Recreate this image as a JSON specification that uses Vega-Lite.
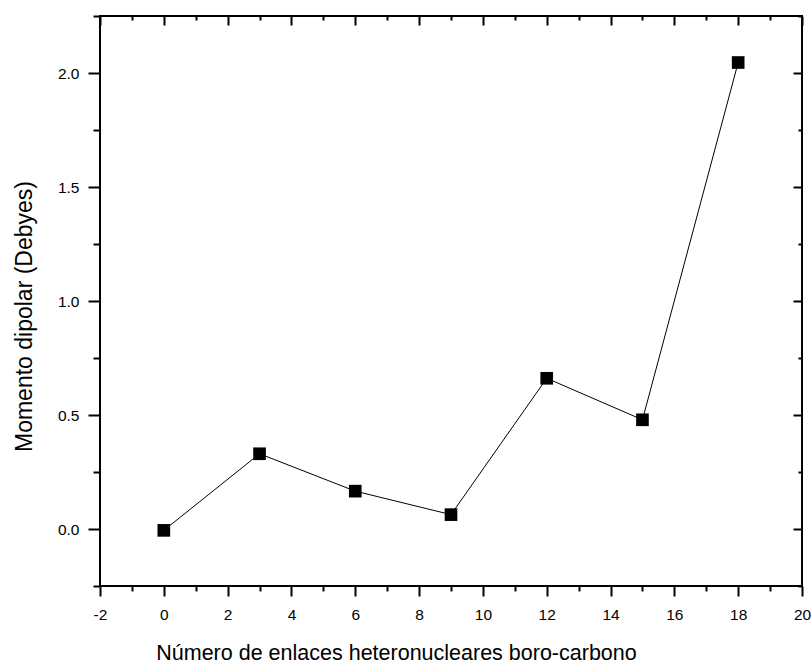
{
  "$schema": "https://vega.github.io/schema/vega-lite/v6.json",
  "width": 702,
  "height": 570,
  "autosize": {"type": "none"},
  "padding": {"left": 100, "top": 16, "right": 10, "bottom": 79},
  "background": "white",
  "config": {
    "view": {"stroke": "#000", "strokeWidth": 2},
    "font": "Liberation Sans",
    "axis": {
      "grid": false,
      "domain": false,
      "tickColor": "#000",
      "tickWidth": 2,
      "labelFont": "Liberation Sans",
      "labelFontSize": 15.5,
      "labelColor": "#000",
      "titleFont": "Liberation Sans",
      "titleFontWeight": "normal",
      "titleColor": "#000"
    }
  },
  "data": {
    "values": [
      {"n": 0, "mu": -0.006},
      {"n": 3, "mu": 0.330},
      {"n": 6, "mu": 0.166},
      {"n": 9, "mu": 0.063},
      {"n": 12, "mu": 0.661},
      {"n": 15, "mu": 0.479},
      {"n": 18, "mu": 2.046}
    ]
  },
  "resolve": {"axis": {"x": "independent", "y": "independent"}},
  "layer": [
    {
      "mark": {"type": "line", "color": "#000", "strokeWidth": 1},
      "encoding": {
        "x": {
          "field": "n", "type": "quantitative",
          "scale": {"domain": [-2, 20], "nice": false, "zero": false},
          "axis": {
            "orient": "bottom",
            "values": [-2, 0, 2, 4, 6, 8, 10, 12, 14, 16, 18, 20],
            "labelExpr": "toString(datum.value)",
            "tickSize": 10,
            "labelPadding": 11,
            "labelFlush": false,
            "labelOverlap": false,
            "title": "Número de enlaces heteronucleares boro-carbono",
            "titleFontSize": 21.5,
            "titleAlign": "center",
            "titleBaseline": "alphabetic",
            "titleX": 296,
            "titleY": 73
          }
        },
        "y": {
          "field": "mu", "type": "quantitative",
          "scale": {"domain": [-0.25, 2.25], "nice": false, "zero": false},
          "axis": {
            "orient": "left",
            "values": [0, 0.5, 1, 1.5, 2],
            "format": ".1f",
            "tickSize": 12,
            "labelPadding": 9,
            "labelFlush": false,
            "labelOverlap": false,
            "title": "Momento dipolar (Debyes)",
            "titleFontSize": 23,
            "titleAngle": 270,
            "titleAlign": "center",
            "titleBaseline": "alphabetic",
            "titleX": -69,
            "titleY": 300
          }
        }
      }
    },
    {
      "mark": {"type": "point", "shape": "square", "filled": true, "color": "#000", "size": 160, "opacity": 1},
      "encoding": {
        "x": {
          "field": "n", "type": "quantitative",
          "axis": {
            "orient": "bottom",
            "values": [-1, 1, 3, 5, 7, 9, 11, 13, 15, 17, 19],
            "tickSize": 5,
            "labels": false,
            "title": null
          }
        },
        "y": {
          "field": "mu", "type": "quantitative",
          "axis": {
            "orient": "left",
            "values": [-0.25, 0.25, 0.75, 1.25, 1.75, 2.25],
            "tickSize": 7,
            "labels": false,
            "title": null
          }
        }
      }
    },
    {
      "mark": {"type": "line", "opacity": 0},
      "encoding": {
        "x": {
          "field": "n", "type": "quantitative",
          "axis": {
            "orient": "top",
            "values": [-2, 0, 2, 4, 6, 8, 10, 12, 14, 16, 18, 20],
            "tickSize": -9,
            "labels": false,
            "title": null
          }
        },
        "y": {
          "field": "mu", "type": "quantitative",
          "axis": {
            "orient": "right",
            "values": [0, 0.5, 1, 1.5, 2],
            "tickSize": -9,
            "labels": false,
            "title": null
          }
        }
      }
    },
    {
      "mark": {"type": "line", "opacity": 0},
      "encoding": {
        "x": {
          "field": "n", "type": "quantitative",
          "axis": {
            "orient": "top",
            "values": [-1, 1, 3, 5, 7, 9, 11, 13, 15, 17, 19],
            "tickSize": -4,
            "labels": false,
            "title": null
          }
        },
        "y": {
          "field": "mu", "type": "quantitative",
          "axis": {
            "orient": "right",
            "values": [-0.25, 0.25, 0.75, 1.25, 1.75, 2.25],
            "tickSize": -4,
            "labels": false,
            "title": null
          }
        }
      }
    }
  ]
}
